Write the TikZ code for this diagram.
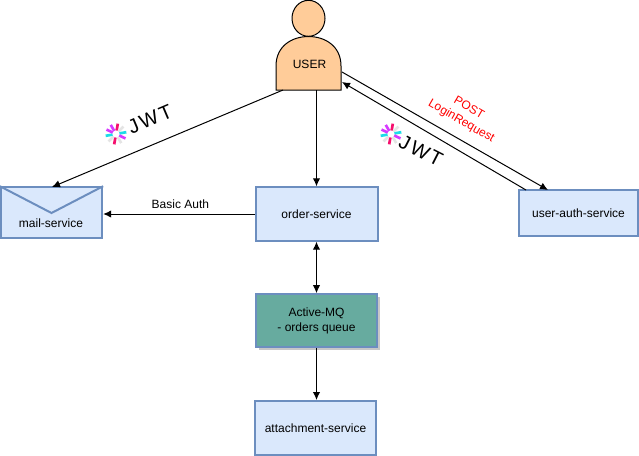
\documentclass[tikz,border=0pt]{standalone}
\usepackage{fontspec}
\setmainfont{Liberation Sans}
\usetikzlibrary{shadows,arrows.meta}
\definecolor{boxfill}{HTML}{DAE8FC}
\definecolor{boxline}{HTML}{6C8EBF}
\definecolor{queuefill}{HTML}{67AB9F}
\definecolor{userfill}{HTML}{FFCC99}
\definecolor{jwtpink}{HTML}{F5106E}
\definecolor{jwtcyan}{HTML}{1CDCE8}
\definecolor{jwtviolet}{HTML}{D63AFF}
\definecolor{jwtgrey}{HTML}{E4E4E4}
\tikzset{
  >={Latex[length=6pt,width=5.5pt]},
  service/.style={draw=boxline,line width=1.5pt,fill=boxfill,inner sep=0pt,align=center,font=\fontsize{9}{11.25}\selectfont},
  plain/.style={inner sep=0pt,align=center,font=\fontsize{9}{11.25}\selectfont},
  jwtword/.style={inner sep=0pt,font=\fontsize{15}{15}\selectfont\addfontfeature{LetterSpace=12}},
  link/.style={line width=.75pt,->},
  spoke/.style={line width=2pt},
  jwtmark/.pic={
    \foreach \ang/\col in {100/jwtpink,135/jwtgrey,170/jwtcyan,205/jwtviolet,240/jwtviolet,280/jwtpink,315/jwtgrey,350/jwtcyan,25/jwtviolet,60/jwtgrey}
      \draw[spoke,draw=\col] (\ang:3.5) -- (\ang:10.5);
  },
}
\begin{document}
\begin{tikzpicture}[x=.75pt,y=-.75pt]
  \useasboundingbox (0,0) rectangle (639,455);

  % user figure
  \draw[fill=userfill,line width=.75pt] (276,90) -- (276,66) .. controls (276,46) and (292,36.5) .. (308.5,36.5) .. controls (325,36.5) and (341,46) .. (341,66) -- (341,90) -- cycle;
  \draw[fill=userfill,line width=.75pt] (308.5,18.3) circle (16.5 and 18);
  \node[plain,minimum width=48.75pt,minimum height=40.5pt] (user) at (308.5,63) {};
  \node[plain] (userlabel) at (309.5,64) {USER};

  % services
  \node[service,minimum width=76pt,minimum height=38pt] (mail) at (51.5,212.5) {};
  \draw[draw=boxline,line width=1.5pt] (mail.north west) -- (51.5,213) -- (mail.north east);
  \node[plain] (maillabel) at (51,223) {mail-service};
  \node[service,minimum width=91.5pt,minimum height=40pt] (order) at (316.5,214) {order-service};
  \node[service,minimum width=89.5pt,minimum height=34.5pt] (auth) at (578.5,213) {user-auth-service};
  \node[service,minimum width=90.5pt,minimum height=39.5pt,fill=queuefill,drop shadow={shadow xshift=2.25pt,shadow yshift=-2.25pt,fill=black!22,opacity=1}] (queue) at (316.5,320.5) {Active-MQ\\- orders queue};
  \node[service,minimum width=90.5pt,minimum height=40.5pt] (attach) at (315.5,428) {attachment-service};

  % arrows
  \coordinate (mailtip) at (52,187);
  \coordinate (userleft) at (283,90);
  \coordinate (loginout) at (342,72);
  \coordinate (logintip) at (548,190);
  \coordinate (tokenout) at (526,190);
  \coordinate (tokentip) at (342,82);
  \draw[link] (userleft) -- (mailtip);
  \draw[link] (order.north |- user.south) -- (order.north);
  \draw[link] (order.west) -- (order.west -| mail.east) node[plain,pos=.49,above=4pt] (basic) {Basic Auth};
  \draw[link] (loginout) -- (logintip);
  \draw[link] (tokenout) -- (tokentip);
  \draw[link,<->] (order.south) -- (queue.north);
  \draw[link] (queue.south) -- (attach.north -| queue.south);

  % labels
  \node[plain,text=red,rotate=-30] (login) at (465,115) {POST\\LoginRequest};
  \pic at (116,134) {jwtmark};
  \node[jwtword,rotate=23] (jwtleft) at (150,119) {JWT};
  \pic at (391,134) {jwtmark};
  \node[jwtword,rotate=-27] (jwtright) at (421,151) {JWT};
\end{tikzpicture}
\end{document}
